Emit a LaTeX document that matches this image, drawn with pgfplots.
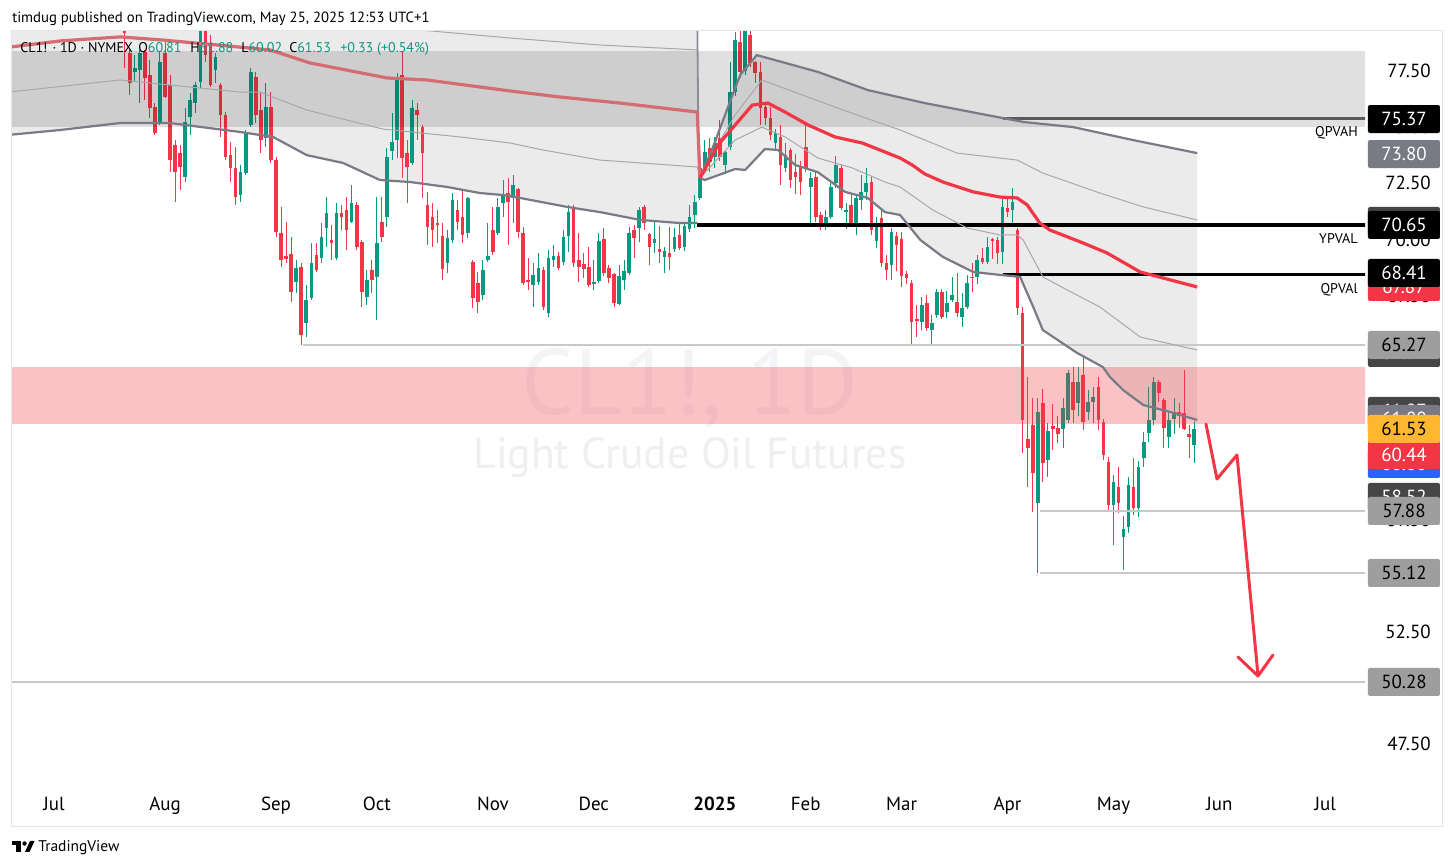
\documentclass[border=0pt]{standalone}
\usepackage{fontspec}
\setmainfont{PT Sans}
\usepackage{pgfplots}
\pgfplotsset{compat=1.18}
\usepackage{pgfplotstable}
\definecolor{tvgreen}{RGB}{8,153,129}
\definecolor{tvred}{RGB}{242,54,69}
\definecolor{tvgray}{RGB}{120,123,134}
\definecolor{tvthin}{RGB}{165,168,176}
\definecolor{tvline}{RGB}{200,200,200}
\definecolor{tvbox}{RGB}{158,158,158}
\definecolor{tvyellow}{RGB}{255,183,47}
\definecolor{tvblue}{RGB}{41,98,255}
\definecolor{tvdark}{RGB}{70,70,70}
\definecolor{oldred}{RGB}{212,108,114}
\definecolor{tvframe}{RGB}{228,230,236}
\definecolor{wmA}{RGB}{244,244,246}
\definecolor{wmB}{RGB}{239,239,242}
\newcommand\lab{\fontsize{13.5}{16}\selectfont}
\newcommand\hdr{\fontsize{10}{12}\selectfont}
\pgfplotstableread{
i o h l c
14 79.8 80.3 77.62 79.2
15 78.29 78.50 76.43 76.95
16 77.47 78.21 77.03 77.62
17 77.55 78.44 76.06 78.29
18 78.36 78.44 76.21 77.17
19 77.32 77.99 75.39 75.84
20 75.91 76.06 74.65 74.72
21 75.24 78.36 75.09 77.91
22 78.29 78.80 76.28 76.35
23 76.88 77.32 73.01 73.53
24 74.20 74.42 71.67 73.01
25 73.83 74.20 72.20 73.24
26 72.79 75.84 72.57 75.24
27 75.47 76.50 74.65 76.21
28 76.06 77.03 75.62 76.88
29 77.03 80.30 76.73 80.06
30 80.00 80.20 77.90 78.20
31 78.66 79.10 76.80 76.88
32 77.55 78.29 76.95 78.14
33 76.88 76.95 74.57 75.54
34 75.54 75.69 73.53 73.68
35 73.76 74.35 72.57 73.16
36 73.16 74.13 71.52 71.90
37 71.97 73.31 71.67 73.01
38 72.94 74.87 72.86 74.79
39 75.09 77.62 75.00 77.47
40 77.25 77.47 75.20 75.54
41 75.76 76.58 73.83 74.42
42 74.50 76.95 74.13 75.91
43 75.91 76.58 73.38 73.53
44 73.53 73.68 70.11 70.34
45 70.26 71.45 68.78 69.07
46 69.25 70.78 68.93 69.10
47 69.34 70.11 67.21 67.66
48 68.11 69.07 67.59 68.70
49 68.78 68.93 65.28 65.73
50 66.25 67.96 65.65 67.29
51 67.37 69.82 67.29 68.93
52 69.30 69.82 68.55 68.63
53 69.15 70.71 68.93 70.11
54 70.49 71.90 69.67 71.18
55 69.97 70.63 69.07 69.85
56 69.15 71.60 69.07 71.16
57 71.18 71.53 70.41 71.01
58 71.30 71.90 69.52 70.41
59 70.78 72.42 70.71 71.60
60 71.53 71.67 69.52 69.67
61 69.89 69.97 66.99 67.66
62 67.44 68.63 67.07 68.18
63 68.63 69.07 67.59 68.18
64 68.33 71.90 66.40 69.82
65 70.78 71.90 69.89 70.11
66 71.01 74.05 70.56 73.68
67 73.95 75.61 73.53 74.35
68 74.42 77.40 73.61 77.17
69 77.32 78.36 72.72 73.61
70 73.83 74.42 71.60 73.23
71 73.38 76.21 73.31 75.83
72 75.76 76.06 74.42 75.54
73 75.02 75.10 71.82 73.83
74 71.53 72.12 69.74 70.56
75 71.01 71.60 69.67 70.41
76 70.71 71.30 69.82 70.63
77 70.14 70.71 68.18 68.66
78 68.93 70.41 68.48 70.04
79 69.97 72.05 69.82 71.75
80 71.30 71.75 70.41 70.78
81 71.01 72.20 69.82 70.19
82 70.29 71.90 70.04 71.82
83 69.00 69.07 66.92 67.37
84 68.03 68.55 66.70 67.21
85 67.51 69.07 67.29 68.63
86 69.07 70.71 69.00 69.25
87 70.41 71.45 69.30 69.44
88 70.26 71.82 70.19 71.45
89 71.60 72.64 71.00 71.97
90 72.05 72.72 69.74 71.67
91 71.82 72.86 70.71 72.42
92 72.23 72.27 70.04 70.34
93 70.26 70.55 67.96 68.03
94 68.18 69.15 67.74 68.11
95 67.96 68.93 66.99 68.40
96 68.11 69.37 67.96 68.70
97 68.63 68.78 66.84 66.99
98 66.70 69.52 66.55 69.15
99 69.07 69.74 68.78 69.25
100 69.25 69.44 68.63 68.70
101 69.00 70.41 68.85 70.08
102 70.14 71.53 69.44 71.23
103 71.45 71.53 68.78 68.93
104 69.07 70.29 68.11 68.78
105 68.90 69.37 68.26 68.66
106 68.78 69.67 67.88 67.96
107 68.00 69.07 67.74 68.11
108 68.15 70.26 68.03 69.93
109 70.00 70.49 68.36 68.51
110 68.70 68.85 68.03 68.28
111 68.45 68.48 66.99 67.17
112 67.11 68.85 67.07 68.36
113 68.18 69.07 67.74 68.58
114 68.51 70.53 68.40 70.29
115 70.41 70.63 69.15 70.04
116 70.49 71.45 69.89 71.30
117 71.42 71.53 70.41 70.71
118 70.23 70.29 68.85 69.64
119 69.82 70.78 69.37 70.00
120 69.58 70.59 68.96 69.44
121 69.22 69.67 68.48 69.48
122 69.37 70.53 68.63 69.22
123 69.55 70.49 69.44 70.08
124 70.19 70.74 69.52 69.59
125 69.67 70.78 69.49 70.59
126 70.44 71.53 70.34 71.01
127 71.08 71.97 70.49 71.67
128 71.82 73.61 71.75 73.16
129 73.09 74.42 73.00 73.90
130 74.05 74.50 73.00 73.46
131 73.68 74.57 73.16 74.28
132 74.50 75.32 73.50 73.68
133 73.31 74.00 72.90 73.90
134 74.13 77.91 74.00 76.58
135 76.58 79.25 76.40 78.88
136 78.81 79.30 77.20 77.47
137 77.50 80.77 77.30 80.04
138 79.10 79.55 77.70 77.84
139 77.91 77.95 76.95 77.40
140 77.47 77.91 75.09 75.84
141 75.91 76.00 75.09 75.39
142 75.39 75.90 74.42 74.65
143 74.28 74.90 73.98 74.72
144 74.57 75.09 72.42 73.31
145 73.16 74.28 73.00 73.76
146 73.98 74.05 72.27 72.64
147 73.01 73.80 72.00 72.79
148 73.23 73.50 71.95 72.56
149 74.13 75.09 73.00 73.16
150 72.34 73.00 70.71 72.72
151 72.79 73.00 70.78 71.00
152 71.08 71.20 70.40 70.56
153 70.56 71.30 70.40 71.00
154 71.00 72.50 70.90 72.34
155 72.49 73.70 72.30 73.31
156 73.16 73.30 71.30 71.38
157 71.25 71.60 70.45 71.29
158 71.53 72.00 70.60 70.71
159 70.71 72.00 70.20 71.82
160 71.75 72.86 71.30 72.12
161 72.12 73.16 71.75 72.49
162 72.56 72.80 70.20 70.41
163 69.90 71.00 69.60 70.70
164 70.93 71.30 68.78 68.93
165 68.93 69.30 68.20 68.62
166 68.85 70.50 68.20 70.34
167 70.14 70.30 68.60 69.74
168 70.00 70.30 67.88 68.36
169 68.45 68.60 68.00 68.26
170 68.06 68.20 65.28 66.32
171 66.45 67.07 65.65 66.36
172 66.32 67.44 65.95 67.07
173 67.14 67.50 65.90 66.03
174 65.95 66.60 65.28 66.25
175 66.62 67.80 66.50 67.66
176 67.66 67.80 66.45 66.55
177 66.77 67.70 66.50 67.14
178 67.29 68.33 67.20 67.51
179 67.22 68.48 66.55 66.70
180 66.55 67.60 66.10 66.92
181 66.99 68.40 66.90 68.03
182 68.33 68.93 67.66 68.26
183 68.33 69.30 68.00 69.07
184 69.15 69.60 68.90 69.00
185 69.00 70.11 68.90 69.67
186 70.00 70.05 69.10 69.92
187 69.97 70.11 68.90 69.37
188 69.44 71.82 68.90 71.45
189 71.40 71.80 71.00 71.20
190 71.30 72.28 70.56 71.67
191 70.41 70.50 66.60 66.92
192 66.70 67.00 60.45 61.94
193 61.08 63.87 58.97 60.68
194 61.72 62.90 57.85 59.56
195 58.25 62.91 55.11 62.31
196 62.68 63.31 59.19 60.01
197 60.16 61.82 59.41 61.46
198 61.67 62.65 60.60 61.53
199 61.58 62.10 60.90 61.33
200 61.53 62.90 60.70 62.46
201 61.94 64.17 61.79 64.02
202 63.65 64.32 61.79 62.39
203 62.68 64.32 62.10 63.65
204 63.95 64.84 61.50 61.87
205 62.31 63.28 61.94 62.76
206 62.76 63.40 61.80 62.98
207 63.43 63.87 61.50 61.94
208 61.87 62.00 60.16 60.38
209 60.08 60.30 57.93 58.15
210 58.15 59.49 56.37 59.19
211 58.97 59.86 57.78 58.23
212 56.74 57.66 55.25 57.07
213 57.18 59.40 56.90 59.04
214 58.97 60.23 57.70 58.00
215 58.00 60.10 57.60 59.86
216 60.23 61.42 59.86 60.97
217 61.35 63.43 60.97 61.94
218 61.94 63.87 61.70 63.65
219 63.65 63.73 62.76 63.13
220 62.83 62.90 60.70 61.57
221 61.20 62.30 60.70 61.94
222 62.00 62.90 61.30 62.30
223 62.30 62.70 61.60 62.10
224 62.24 64.17 61.50 61.53
225 61.32 61.70 60.23 61.17
226 60.81 61.88 60.02 61.53
}\candles
\tikzset{pb/.style={fill=#1, minimum width=18mm, minimum height=7mm, inner sep=0pt, rounded corners=0.5mm, font=\lab}}
\pgfplotsset{candle/.style 2 args={draw=none, no markers, forget plot,
  restrict expr to domain={\thisrow{c}-\thisrow{o}}{#1},
  error bars/.cd, y dir=both, y explicit, error mark=none,
  error bar style={draw=#2, solid}}}
\begin{document}
\begin{tikzpicture}
\useasboundingbox (0,0) rectangle (364mm,-216.75mm);
\fill[white] (0,0) rectangle (364mm,-216.75mm);
\begin{scope}[x=0.25mm,y=-0.25mm]
\node[anchor=base, inner sep=0pt, text=wmA, font=\fontsize{66}{70}\selectfont] at (690,415) {CL1!, 1D};
\node[anchor=base, inner sep=0pt, text=wmB, font=\fontsize{31}{34}\selectfont] at (690,469) {Light Crude Oil Futures};
\end{scope}
\begin{axis}[
  at={(3mm,-7.5mm)}, anchor=north west,
  scale only axis, width=338.25mm, height=188.75mm,
  xmin=-8.33, xmax=259.86, ymin=45.667, ymax=79.328,
  axis line style={draw=none}, tick style={draw=none},
  clip=true,
  ytick={47.5,50,52.5,55,57.5,60,62.5,65,67.5,70,72.5,75,77.5},
  yticklabels={47.50,50.00,52.50,55.00,57.50,60.00,62.50,65.00,67.50,70.00,72.50,75.00,77.50},
  yticklabel pos=right,
  yticklabel style={anchor=base east, inner sep=0pt, xshift=16.5mm, yshift=-1.7mm, font=\lab, text=black},
  xtick={0,22,44,64,87,107,131,149,168,189,210,231,252},
  xticklabels={Jul,Aug,Sep,Oct,Nov,Dec,\textbf{2025},Feb,Mar,Apr,May,Jun,Jul},
  xticklabel style={anchor=base, inner sep=0pt, yshift=-6.25mm, font=\lab, text=black},
]
% anchored VWAP band fills
\addplot[fill=black, fill opacity=0.08, draw=none, forget plot] coordinates {
(-9,80) (127.5,80) (127.5,70.72) (124.1,70.72) (116.2,70.86) (108.2,71.21) (101.7,71.44) (92.4,71.84) (89.0,71.97) (84.4,72.06) (77.9,72.33) (70.6,72.55) (64.6,72.64) (57.3,73.40) (50.1,73.75) (43.4,74.56) (36.9,74.78) (23.0,75.18) (13.1,75.18) (1.2,74.87) (-9,74.65)} -- cycle;
\addplot[fill=black, fill opacity=0.08, draw=none, forget plot] coordinates {
(128.05,72.73) (130.4,73.98) (133.0,75.54) (136.0,77.32) (139.3,78.21) (151.4,77.46) (161.3,76.65) (172.6,76.07) (188.1,75.40) (192.1,75.23) (202.0,75.0) (213.9,74.42) (226.6,73.84)
(226.6,61.94) (221.2,62.30) (215.9,62.61) (211.9,63.28) (209.3,63.86) (207.9,64.30) (202.8,64.93) (196.0,65.95) (194.1,66.98) (191.5,68.32) (187.5,68.41) (182.2,68.54) (176.2,69.21) (171.7,69.97) (167.7,71.08) (164.7,71.21) (161.3,71.84) (156.8,72.11) (151.4,72.99) (146.9,73.31) (143.5,73.98) (140.9,74.02) (137.0,73.09) (135.0,73.13) (129.0,72.64)} -- cycle;
% candles: wicks
\addplot[candle={0:100}{tvgreen}, error bar style={line width=0.25mm}]
  table[x=i, y expr={(\thisrow{o}+\thisrow{c})/2},
   y error plus expr={\thisrow{h}-(\thisrow{o}+\thisrow{c})/2},
   y error minus expr={(\thisrow{o}+\thisrow{c})/2-\thisrow{l}}] {\candles};
\addplot[candle={-100:-0.0001}{tvred}, error bar style={line width=0.25mm}]
  table[x=i, y expr={(\thisrow{o}+\thisrow{c})/2},
   y error plus expr={\thisrow{h}-(\thisrow{o}+\thisrow{c})/2},
   y error minus expr={(\thisrow{o}+\thisrow{c})/2-\thisrow{l}}] {\candles};
% candles: bodies
\addplot[candle={0:100}{tvgreen}, error bar style={line width=0.9mm}]
  table[x=i, y expr={(\thisrow{o}+\thisrow{c})/2},
   y error expr={max(abs(\thisrow{c}-\thisrow{o})/2,0.025)}] {\candles};
\addplot[candle={-100:-0.0001}{tvred}, error bar style={line width=0.9mm}]
  table[x=i, y expr={(\thisrow{o}+\thisrow{c})/2},
   y error expr={max(abs(\thisrow{c}-\thisrow{o})/2,0.025)}] {\candles};
% rectangles
\addplot[fill=black, fill opacity=0.12, draw=none, forget plot] coordinates {(-10,75.0) (270,75.0) (270,78.39) (-10,78.39)} -- cycle;
\addplot[fill=tvred, fill opacity=0.3, draw=none, forget plot] coordinates {(-10,61.78) (270,61.78) (270,64.31) (-10,64.31)} -- cycle;
% horizontal levels
\addplot[tvline, line width=0.5mm, forget plot] coordinates {(49.4,65.27) (270,65.27)};
\addplot[tvline, line width=0.5mm, forget plot] coordinates {(195.4,57.88) (270,57.88)};
\addplot[tvline, line width=0.5mm, forget plot] coordinates {(195.4,55.12) (270,55.12)};
\addplot[tvline, line width=0.5mm, forget plot] coordinates {(-10,50.28) (270,50.28)};
\addplot[draw={rgb,255:red,90;green,90;blue,90}, line width=0.65mm, forget plot] coordinates {(188.1,75.37) (270,75.37)};
\addplot[black, line width=1mm, forget plot] coordinates {(127.5,70.65) (270,70.65)};
\addplot[black, line width=0.8mm, forget plot] coordinates {(188.1,68.41) (270,68.41)};
% old anchored VWAP
\addplot[tvthin, line width=0.25mm, forget plot] coordinates {(64.6,79.6) (72.5,79.33) (90.4,78.97) (108.2,78.66) (127.5,78.44)};
\addplot[tvthin, line width=0.25mm, forget plot] coordinates {(-9,76.56) (13.1,77.10) (36.9,76.56) (40.8,76.56) (50.1,75.76) (65.2,74.91) (80.5,74.56) (90.4,74.29) (96.9,73.98) (108.2,73.53) (127.5,73.22) (128.05,72.73)};
\addplot[draw={rgb,255:red,140;green,142;blue,150}, line width=0.45mm, forget plot] coordinates {(127.5,80) (127.8,72.73)};
\addplot[tvgray, line width=0.55mm, forget plot] coordinates {(-9,74.65) (1.2,74.87) (13.1,75.18) (23.0,75.18) (36.9,74.78) (43.4,74.56) (50.1,73.75) (57.3,73.40) (64.6,72.64) (70.6,72.55) (77.9,72.33) (84.4,72.06) (89.0,71.97) (92.4,71.84) (101.7,71.44) (108.2,71.21) (116.2,70.86) (124.1,70.72) (127.5,70.72)};
\addplot[oldred, line width=0.8mm, forget plot] coordinates {(-9,78.56) (1.2,78.84) (13.1,79.02) (21.6,78.88) (32.3,78.66) (42.8,78.44) (50.7,77.86) (66.0,77.19) (73.9,77.10) (90.4,76.61) (100.3,76.34) (112.2,76.07) (127.5,75.67) (128.05,72.73)};
% new anchored VWAP (2025)
\addplot[tvthin, line width=0.25mm, forget plot] coordinates {(128.05,72.73) (131.0,73.98) (135.0,75.54) (140.3,77.10) (156.4,75.76) (167.7,74.87) (179.0,73.84) (190.9,73.53) (196.0,72.95) (207.3,72.06) (215.9,71.44) (226.6,70.86)};
\addplot[tvthin, line width=0.25mm, forget plot] coordinates {(128.05,72.73) (135.0,74.42) (140.3,75.0) (144.9,74.56) (151.4,73.62) (158.2,73.18) (164.7,72.55) (167.7,72.33) (174.2,71.30) (181.0,70.50) (187.5,70.19) (190.9,70.19) (192.1,69.97) (196.0,68.32) (200.8,67.74) (207.3,66.98) (215.3,65.64) (226.6,65.06)};
\addplot[tvgray, line width=0.55mm, forget plot] coordinates {(128.05,72.73) (130.4,73.98) (133.0,75.54) (136.0,77.32) (139.3,78.21) (151.4,77.46) (161.3,76.65) (172.6,76.07) (188.1,75.40) (192.1,75.23) (202.0,75.0) (213.9,74.42) (226.6,73.84)};
\addplot[tvgray, line width=0.55mm, forget plot] coordinates {(128.05,72.73) (129.0,72.64) (135.0,73.13) (137.0,73.09) (140.9,74.02) (143.5,73.98) (146.9,73.31) (151.4,72.99) (156.8,72.11) (161.3,71.84) (164.7,71.21) (167.7,71.08) (171.7,69.97) (176.2,69.21) (182.2,68.54) (187.5,68.41) (191.5,68.32) (194.1,66.98) (196.0,65.95) (202.8,64.93) (207.9,64.30) (209.3,63.86) (211.9,63.28) (215.9,62.61) (221.2,62.30) (226.6,61.94)};
\addplot[tvred, line width=0.8mm, forget plot] coordinates {(128.05,72.73) (131.6,74.20) (135.0,75.09) (138.4,75.98) (141.5,76.07) (144.9,75.67) (149.5,75.09) (154.8,74.56) (160.2,74.29) (164.7,73.89) (167.7,73.62) (170.1,73.31) (172.6,72.91) (176.2,72.55) (182.2,72.11) (187.5,71.88) (190.9,71.84) (192.9,71.53) (195.4,70.72) (197.4,70.41) (204.0,69.83) (208.7,69.39) (215.3,68.54) (226.6,67.87)};
\end{axis}
\begin{scope}[x=0.25mm,y=-0.25mm]
\draw[tvframe, line width=0.25mm] (12,30) rectangle (1443,827);
% projection arrow
\draw[tvred, line width=0.75mm, line join=round, line cap=round] (1206,424) -- (1217,479) -- (1237,455) -- (1258,675);
\draw[tvred, line width=0.75mm, line join=round, line cap=round] (1238,657) -- (1258,676) -- (1273,655);
% level names
\node[anchor=base east, inner sep=0pt, font=\hdr] at (1358,136) {QPVAH};
\node[anchor=base east, inner sep=0pt, font=\hdr] at (1358,244) {YPVAL};
\node[anchor=base east, inner sep=0pt, font=\hdr] at (1358,294) {QPVAl};
% price scale labels
\node[pb=black, text=white] at (1404,119) {75.37};
\node[pb=tvgray, text=white] at (1404,154) {73.80};
\node[pb=tvdark, text=white] at (1404,221) {70.84};
\node[pb=black, text=white] at (1404,225) {70.65};
\node[pb=tvred, text=white] at (1404,287) {67.87};
\node[pb=black, text=white] at (1404,273) {68.41};
\node[pb=tvdark, text=white] at (1404,353) {64.97};
\node[pb=tvbox, text=black] at (1404,345) {65.27};
\node[pb=tvdark, text=white] at (1404,411) {61.97};
\node[pb=tvgray, text=white] at (1404,419) {61.80};
\node[pb=tvblue, text=white] at (1404,464) {60.00};
\node[pb=tvred, text=white] at (1404,455) {60.44};
\node[pb=tvyellow, text=black] at (1404,429) {61.53};
\node[pb=tvdark, text=white] at (1404,497) {58.52};
\node[pb=tvbox, text=black] at (1404,511) {57.88};
\node[pb=tvbox, text=black] at (1404,573) {55.12};
\node[pb=tvbox, text=black] at (1404,682) {50.28};
% headers
\node[anchor=base west, inner sep=0pt, font=\fontsize{10.5}{12}\selectfont] at (12,22.5) {timdug published on TradingView.com, May 25, 2025 12:53 UTC+1};
\node[anchor=base west, inner sep=0pt, font=\hdr] at (20,52) {CL1! · 1D · NYMEX};
\node[anchor=base west, inner sep=0pt, font=\hdr] at (138,52) {O\textcolor{tvgreen}{60.81}};
\node[anchor=base west, inner sep=0pt, font=\hdr] at (190,52) {H\textcolor{tvgreen}{61.88}};
\node[anchor=base west, inner sep=0pt, font=\hdr] at (241,52) {L\textcolor{tvgreen}{60.02}};
\node[anchor=base west, inner sep=0pt, font=\hdr] at (289,52) {C\textcolor{tvgreen}{61.53}};
\node[anchor=base west, inner sep=0pt, font=\hdr, text=tvgreen] at (340,52) {+0.33 (+0.54\%)};
% footer logo
\fill[black] (12,841) rectangle (21,845);
\fill[black] (16,845) rectangle (21,852);
\fill[black] (24.5,843.5) circle[radius=0.55mm];
\fill[black] (25,852) -- (30,841) -- (34.5,841) -- (29.5,852) -- cycle;
\node[anchor=base west, inner sep=0pt, font=\fontsize{11}{12}\selectfont] at (38,852) {TradingView};
\end{scope}
\end{tikzpicture}
\end{document}
